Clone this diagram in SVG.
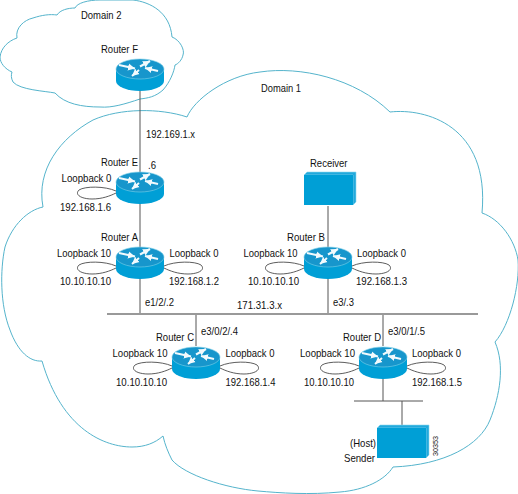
<svg xmlns="http://www.w3.org/2000/svg" xmlns:xlink="http://www.w3.org/1999/xlink" width="518" height="494" viewBox="0 0 518 494">
<style>
text{font-family:"Liberation Sans",Arial,sans-serif;font-size:10.500px;fill:#111}
.cloud{fill:none;stroke:#55b4cc;stroke-width:1}
.link{stroke:#555;stroke-width:1;fill:none}
.bus{stroke:#999;stroke-width:2;fill:none}
.thin{stroke:#555;stroke-width:1;fill:none}
.loop{fill:none;stroke:#333;stroke-width:.8}
.side{fill:#009fd6}
.top{fill:#1796cc;stroke:#7fd0e8;stroke-width:.6}
.arr{stroke:#f2fafd;stroke-width:2;fill:none;marker-end:url(#head)}
.box{fill:#009fd6}
.boxe{fill:#22a9dc;stroke:#8fd8ee;stroke-width:.6}
</style>
<defs>
<marker id="head" markerUnits="userSpaceOnUse" markerWidth="8" markerHeight="8" refX="7" refY="4" orient="auto"><path d="M0,0.500L7,4L0,7.500z" fill="#f2fafd"/></marker>
<g id="router">
<path class="side" d="M-24,10V22A24,10 0 0 0 24,22V10z"/>
<ellipse class="top" cx="0" cy="10" rx="24" ry="10"/>
<path class="arr" d="M-21,6L-5,9.500"/>
<path class="arr" d="M0,7.500L10,2"/>
<path class="arr" d="M-1,11L-8,17"/>
<path class="arr" d="M18,12L5,9"/>
</g>
<path id="loopL" class="loop" d="M-24,19C-35,14 -55,14 -61,18C-66,23 -58,27 -48,27C-38,27 -30,24 -24,21"/>
<path id="loopR" class="loop" d="M24,19C35,14 55,14 61,18C66,23 58,27 48,27C38,27 30,24 24,21"/>
<g id="host">
<path class="boxe" d="M0,3L3,0H52V30L49,33V3z"/>
<rect class="box" x="0" y="3" width="49" height="30"/>
</g>
</defs>
<rect width="518" height="494" fill="#fff"/>
<g id="domain-2">
<path class="cloud" d="M17,38C15,28 24,20 33,18C42,15 50,14 57,15C60,10 68,8 75,8C77,3 88,0 100,0L133,0C150,2 170,12 172,37C180,40 185,50 183,55C182,60 178,64 175,65C174,72 170,82 163,90C155,97 148,98 140,99C125,104 112,108 100,107C82,107 65,104 55,93C45,91 20,90 13,82C11,78 11,75 12,72C5,69 0,63 0,57C1,48 8,41 17,38z"/>
<text x="81" y="19" textLength="40.500" lengthAdjust="spacingAndGlyphs">Domain 2</text>
</g>
<g id="domain-1">
<path class="cloud" d="M187,117C194,100 225,76 260,72C300,66 355,78 390,112C425,108 490,125 482,213C500,219 515,240 518,260C520,285 510,325 495,342C505,365 500,395 490,420C480,445 445,465 393,467C385,480 365,490 340,492C310,495 280,493 258,491C225,488 185,475 172,460C168,452 165,445 163,436C155,443 145,447 132,447C105,447 62,430 42,361C30,362 18,352 10,330C0,305 0,270 5,247C12,225 28,210 43,207C36,170 60,138 93,120C120,108 160,108 187,117z"/>
<text x="261" y="92" textLength="40" lengthAdjust="spacingAndGlyphs">Domain 1</text>
</g>
<g id="connectors">
<path class="link" d="M140,91V172M140,204V247M140,279V314M196,314V346M328,206V247M328,279V314M383,314V346M383,379V401M402,401V425"/>
<path class="bus" d="M107,314H478"/>
<path class="thin" d="M354,401H423"/>
</g>
<g id="router-f"><use href="#router" x="140" y="59"/><text x="101" y="53" textLength="37" lengthAdjust="spacingAndGlyphs">Router F</text></g>
<g id="link-label-f"><text x="146" y="138" textLength="49" lengthAdjust="spacingAndGlyphs">192.169.1.x</text></g>
<g id="router-e"><use href="#router" x="140" y="172"/><use href="#loopL" x="140" y="172"/><text x="101" y="166" textLength="37" lengthAdjust="spacingAndGlyphs">Router E</text><text x="148" y="169" textLength="8" lengthAdjust="spacingAndGlyphs">.6</text><text x="61.500" y="182" textLength="50" lengthAdjust="spacingAndGlyphs">Loopback 0</text><text x="60" y="211" textLength="51" lengthAdjust="spacingAndGlyphs">192.168.1.6</text></g>
<g id="router-a"><use href="#router" x="140" y="247"/><use href="#loopL" x="140" y="247"/><use href="#loopR" x="140" y="247"/><text x="101" y="241" textLength="37" lengthAdjust="spacingAndGlyphs">Router A</text><text x="57" y="257" textLength="54" lengthAdjust="spacingAndGlyphs">Loopback 10</text><text x="60" y="285" textLength="51" lengthAdjust="spacingAndGlyphs">10.10.10.10</text><text x="169.500" y="257" textLength="49" lengthAdjust="spacingAndGlyphs">Loopback 0</text><text x="169" y="285" textLength="50" lengthAdjust="spacingAndGlyphs">192.168.1.2</text><text x="145" y="306" textLength="29" lengthAdjust="spacingAndGlyphs">e1/2/.2</text></g>
<g id="receiver"><use href="#host" x="304" y="172"/><text x="310" y="167" textLength="37.500" lengthAdjust="spacingAndGlyphs">Receiver</text></g>
<g id="router-b"><use href="#router" x="328" y="247"/><use href="#loopL" x="328" y="247"/><use href="#loopR" x="328" y="247"/><text x="287" y="241" textLength="38" lengthAdjust="spacingAndGlyphs">Router B</text><text x="243.500" y="257" textLength="54" lengthAdjust="spacingAndGlyphs">Loopback 10</text><text x="248" y="285" textLength="51" lengthAdjust="spacingAndGlyphs">10.10.10.10</text><text x="357" y="257" textLength="49" lengthAdjust="spacingAndGlyphs">Loopback 0</text><text x="356" y="285" textLength="51" lengthAdjust="spacingAndGlyphs">192.168.1.3</text><text x="333" y="306" textLength="21" lengthAdjust="spacingAndGlyphs">e3/.3</text></g>
<g id="bus-label"><text x="237" y="309" textLength="45" lengthAdjust="spacingAndGlyphs">171.31.3.x</text></g>
<g id="router-c"><use href="#router" x="196" y="347"/><use href="#loopL" x="196" y="347"/><use href="#loopR" x="196" y="347"/><text x="156" y="341" textLength="38" lengthAdjust="spacingAndGlyphs">Router C</text><text x="201" y="335" textLength="37" lengthAdjust="spacingAndGlyphs">e3/0/2/.4</text><text x="112.500" y="357" textLength="55" lengthAdjust="spacingAndGlyphs">Loopback 10</text><text x="116" y="386" textLength="51" lengthAdjust="spacingAndGlyphs">10.10.10.10</text><text x="225.500" y="357" textLength="49" lengthAdjust="spacingAndGlyphs">Loopback 0</text><text x="225.500" y="386" textLength="50" lengthAdjust="spacingAndGlyphs">192.168.1.4</text></g>
<g id="router-d"><use href="#router" x="383" y="347"/><use href="#loopL" x="383" y="347"/><use href="#loopR" x="383" y="347"/><text x="343" y="341" textLength="38" lengthAdjust="spacingAndGlyphs">Router D</text><text x="388" y="335" textLength="37" lengthAdjust="spacingAndGlyphs">e3/0/1/.5</text><text x="300" y="357" textLength="55" lengthAdjust="spacingAndGlyphs">Loopback 10</text><text x="304" y="386" textLength="50" lengthAdjust="spacingAndGlyphs">10.10.10.10</text><text x="412" y="357" textLength="49" lengthAdjust="spacingAndGlyphs">Loopback 0</text><text x="412" y="386" textLength="50" lengthAdjust="spacingAndGlyphs">192.168.1.5</text></g>
<g id="sender"><use href="#host" x="377" y="425"/><text x="350" y="447" textLength="26" lengthAdjust="spacingAndGlyphs">(Host)</text><text x="344" y="462" textLength="31" lengthAdjust="spacingAndGlyphs">Sender</text><text transform="translate(438,456) rotate(-90)" style="font-size:7.500px" textLength="20" lengthAdjust="spacingAndGlyphs">30353</text></g>
</svg>
